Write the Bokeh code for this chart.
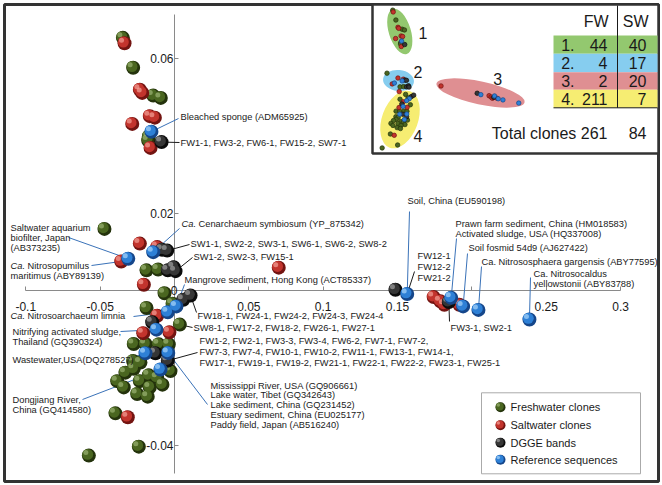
from bokeh.plotting import figure
from bokeh.models import Range1d, LinearAxis, FixedTicker
from bokeh.core.properties import value
from bokeh.embed import file_html
from bokeh.resources import INLINE

# ---------------- DATA (PCA coordinates) ----------------
fw_x = [-0.0347, -0.0278, -0.0143, -0.0092, -0.0173, -0.0177, -0.0471, -0.0188, -0.0110,
        -0.0067, -0.0013, -0.0188, 0.0036, -0.0274, -0.0195, -0.0106, -0.0038, -0.0278,
        -0.0229, -0.0274, -0.0330, -0.0027, -0.0173, -0.0116, -0.0385, -0.0233, -0.0081,
        -0.0341, -0.0166, -0.0251, -0.0180, -0.0397, -0.0240, -0.0576]
fw_y = [0.0652, 0.0575, 0.0503, 0.0497, 0.0397, 0.0387, 0.0159, 0.0052, 0.0054,
        -0.0007, -0.0034, -0.0045, -0.0088, -0.0138, -0.0138, -0.0139, -0.0139, -0.0182,
        -0.0186, -0.0202, -0.0212, -0.0208, -0.0219, -0.0225, -0.0234, -0.0234, -0.0243,
        -0.0250, -0.0250, -0.0267, -0.0274, -0.0317, -0.0403, -0.0426]

sw_x = [-0.0336, -0.0233, -0.0217, -0.0166, -0.0132, -0.0284, -0.0161, -0.0233, -0.0116,
        -0.0358, -0.0206, 0.0701, -0.0116, -0.0210, -0.0034, -0.0314, 0.1743, 0.1788,
        0.1815, 0.1916]
sw_y = [0.0638, 0.0518, 0.0510, 0.0450, 0.0446, 0.0430, 0.0368, 0.0121, 0.0112,
        0.0075, 0.0015, 0.0059, -0.0065, -0.0110, -0.0108, -0.0327, -0.0017, -0.0028,
        -0.0037, -0.0037]

dgge_x = [-0.0087, -0.0083, -0.0049, -0.0045, -0.0005, 0.0007, 0.0059, 0.0108, -0.0150,
          -0.0128, -0.0045, 0.1486, 0.1845]
dgge_y = [0.0383, 0.0105, 0.0103, 0.0052, 0.0060, 0.0050, -0.0024, -0.0013, -0.0082,
          -0.0162, -0.0181, 0.0002, -0.0030]

ref_x = [-0.0155, -0.0143, -0.0311, 0.0013, -0.0045, -0.0121, -0.0195, -0.0042, -0.0094,
         0.1565, 0.1861, 0.1941, 0.2044, 0.2387]
ref_y = [0.0410, 0.0099, 0.0082, -0.0041, -0.0056, -0.0101, -0.0162, -0.0161, -0.0204,
         -0.0009, -0.0019, -0.0041, -0.0050, -0.0075]

series_names = ["Freshwater clones", "Saltwater clones", "DGGE bands", "Reference sequences"]

x_ticks = [-0.1, -0.05, 0.0, 0.05, 0.1, 0.15, 0.2, 0.25, 0.3]
x_tick_labels = ["-0.1", "-0.05", "", "0.05", "0.1", "0.15", "", "0.25", "0.3"]
y_ticks = [0.06, 0.02, 0.0, -0.04]
y_tick_labels = ["0.06", "0.02", "", "-0.04"]
origin_label = "0"

group_ids = ["1.", "2.", "3.", "4."]
group_fw = [44, 4, 2, 211]
group_sw = [40, 17, 20, 7]
group_marks = ["1", "2", "3", "4"]

label_texts = [
    ["Bleached sponge (ADM65925)"],
    ["FW1-1, FW3-2, FW6-1, FW15-2, SW7-1"],
    ["Ca. Cenarchaeum symbiosum (YP_875342)"],
    ["SW1-1, SW2-2, SW3-1, SW6-1, SW6-2, SW8-2"],
    ["SW1-2, SW2-3, FW15-1"],
    ["Mangrove sediment, Hong Kong (ACT85337)"],
    ["Saltwater aquarium", "biofilter, Japan", "(AB373235)"],
    ["Ca. Nitrosopumilus", "maritimus (ABY89139)"],
    ["Ca. Nitrosoarchaeum limnia"],
    ["Nitrifying activated sludge,", "Thailand (GQ390324)"],
    ["Wastewater,USA(DQ278527)"],
    ["Dongjiang River,", "China (GQ414580)"],
    ["FW18-1, FW24-1, FW24-2, FW24-3, FW24-4"],
    ["SW8-1, FW17-2, FW18-2, FW26-1, FW27-1"],
    ["FW1-2, FW2-1, FW3-3, FW3-4, FW6-2, FW7-1, FW7-2,",
     "FW7-3, FW7-4, FW10-1, FW10-2, FW11-1, FW13-1, FW14-1,",
     "FW17-1, FW19-1, FW19-2, FW21-1, FW22-1, FW22-2, FW23-1, FW25-1"],
    ["Mississippi River, USA (GQ906661)", "Lake water, Tibet (GQ342643)",
     "Lake sediment, China (GQ231452)", "Estuary sediment, China (EU025177)",
     "Paddy field, Japan (AB516240)"],
    ["Soil, China (EU590198)"],
    ["FW12-1", "FW12-2", "FW21-2"],
    ["Prawn farm sediment, China (HM018583)", "Activated sludge, USA (HQ337008)"],
    ["Soil fosmid 54d9 (AJ627422)"],
    ["Ca. Nitrososphaera gargensis (ABY77595)"],
    ["Ca. Nitrosocaldus", "yellowstonii (ABY83788)"],
    ["FW3-1, SW2-1"],
]
# which point each label refers to: (series, index)
label_targets = [("ref", 0), ("dgge", 0), ("ref", 1), ("dgge", 2), ("dgge", 5), ("ref", 3),
                 ("ref", 2), ("sw", 9), ("ref", 4), ("ref", 5), ("ref", 6), ("ref", 8),
                 ("dgge", 7), ("fw", 12), ("dgge", 10), ("ref", 7), ("ref", 9), ("ref", 9),
                 ("ref", 10), ("ref", 11), ("ref", 12), ("ref", 13), ("dgge", 12)]

# ---------------- LAYOUT / STYLE ----------------
W, H = 662, 485
X0, X1 = -174 / 1487, (W - 174) / 1487
Y0, Y1 = (290 - H) / 3875, 290 / 3875
FONT = "Liberation Sans"
LBL_SIZE = 9.3

series = {"fw": (fw_x, fw_y), "sw": (sw_x, sw_y), "dgge": (dgge_x, dgge_y), "ref": (ref_x, ref_y)}
order = ["fw", "sw", "dgge", "ref"]
colors = {  # rim, body, highlight
    "fw": ("#24330c", "#4a6620", "#9bb473"),
    "sw": ("#731411", "#c2342d", "#f4a197"),
    "dgge": ("#0c0c0c", "#363636", "#a0a0a0"),
    "ref": ("#15468a", "#2e80d6", "#aad6fb"),
}
lead_col = {"b": "#3a72b8", "k": "#1a1a1a"}

# label layout in page pixels: text x, first line y, line step, leader end x/y, colour, italic "Ca."
label_layout = [
    (180, 116, 10, 178, 118, "b", False),
    (180, 142, 10, 179, 142, "k", False),
    (181, 223, 10, 179, 228, "b", True),
    (190, 243, 10, 189, 244, "k", False),
    (193, 256, 10, 192, 257, "k", False),
    (184, 279, 10, 184, 284, "b", False),
    (10, 227, 10, 68, 237, "b", False),
    (10, 265, 10, 91, 265, "b", True),
    (10, 315, 10, 133, 316, "b", True),
    (12, 331, 10, 120, 331, "b", False),
    (12, 359, 10, 128, 358, "b", False),
    (12, 399, 10.7, 82, 399, "b", False),
    (197, 315, 10, 196, 312, "k", False),
    (193, 327, 10, 192, 327, "k", False),
    (199, 340, 11.4, 197, 352, "k", False),
    (210, 385, 9.8, 207, 404, "b", False),
    (407, 200, 10, 409, 211, "b", False),
    (417, 255, 11.2, 414, 271, "k", False),
    (455, 223, 10, 456, 238, "b", False),
    (468, 247, 10, 467, 253, "b", False),
    (481, 261, 10, 481, 266, "b", False),
    (533, 273, 10.5, 530, 277, "b", False),
    (450, 327, 10, 449, 321, "k", False),
]


def page_x(x):
    return (x - X0) / (X1 - X0) * W


def page_y(y):
    return (Y1 - y) / (Y1 - Y0) * H


p = figure(width=W, height=H, x_range=Range1d(X0, X1), y_range=Range1d(Y0, Y1),
           x_axis_type=None, y_axis_type=None, toolbar_location=None,
           output_backend="svg", min_border=0, outline_line_color=None)

dx1, dx2 = 1.2 / 1487, 3.0 / 1487
dy1, dy2 = 1.2 / 3875, 3.0 / 3875
p.extra_x_ranges = {
    "px": Range1d(0, W),
    "s1x": Range1d(X0 + dx1, X1 + dx1),
    "s2x": Range1d(X0 + dx2, X1 + dx2),
    "ix": Range1d(-408.2 / 461, (W - 408.2) / 461),
}
p.extra_y_ranges = {
    "py": Range1d(H, 0),
    "s1y": Range1d(Y0 - dy1, Y1 - dy1),
    "s2y": Range1d(Y0 - dy2, Y1 - dy2),
    "iy": Range1d((93 - H) / 1278, 93 / 1278),
}
PX = dict(x_range_name="px", y_range_name="py")

# outer frame
p.quad(left=[4], right=[658], top=[4], bottom=[481], fill_color=None,
       line_color="#333333", line_width=3, **PX)

# ---------------- axes crossing at the origin ----------------
xa = LinearAxis(fixed_location=0, ticker=FixedTicker(ticks=x_ticks),
                major_label_overrides={float(k): v for k, v in zip(x_ticks, x_tick_labels)},
                bounds=(x_ticks[0], x_ticks[-1]))
ya = LinearAxis(fixed_location=0, ticker=FixedTicker(ticks=y_ticks),
                major_label_overrides={float(k): v for k, v in zip(y_ticks, y_tick_labels)},
                bounds=(-0.0472, 0.0712))
for ax in (xa, ya):
    ax.axis_line_color = "#8a8a8a"
    ax.major_tick_line_color = "#8a8a8a"
    ax.major_tick_in = 4
    ax.major_tick_out = 0
    ax.minor_tick_line_color = None
    ax.major_label_text_font = FONT
    ax.major_label_text_font_size = "12px"
    ax.major_label_text_color = "#1a1a1a"
    ax.level = "underlay"
xa.major_label_standoff = 11
ya.major_label_standoff = 1
p.add_layout(xa, "below")
p.add_layout(ya, "left")

# ---------------- leader lines ----------------
lx0, ly0, lx1, ly1, lc = [], [], [], [], []
for (kind, idx), lay in zip(label_targets, label_layout):
    xs, ys = series[kind]
    lx0.append(page_x(xs[idx]))
    ly0.append(page_y(ys[idx]))
    lx1.append(lay[3])
    ly1.append(lay[4])
    lc.append(lead_col[lay[5]])
p.segment(x0=lx0, y0=ly0, x1=lx1, y1=ly1, line_color=lc, line_width=1, **PX)

# ---------------- shaded sphere points ----------------
for kind in order:
    xs, ys = series[kind]
    base, body, hi = colors[kind]
    p.scatter(xs, ys, size=14, fill_color=base, line_color=None)
    p.scatter(xs, ys, size=11, fill_color=body, line_color=None,
              x_range_name="s1x", y_range_name="s1y")
    p.scatter(xs, ys, size=5, fill_color=hi, fill_alpha=0.7, line_color=None,
              x_range_name="s2x", y_range_name="s2y")

# origin label drawn over the points
p.text(x=[0.0], y=[0.0], text=[origin_label], text_font=value(FONT), text_font_size="12px",
       text_color="#1a1a1a", text_align="center", text_baseline="middle", x_offset=-0.5)

# ---------------- labels ----------------
up_x, up_y, up_t, up_o = [], [], [], []
it_x, it_y, it_t = [], [], []
ca_w = LBL_SIZE * (0.722 + 0.556 + 0.278 + 0.278)
for lines, lay in zip(label_texts, label_layout):
    tx, ty, step, _, _, _, ital = lay
    for j, line in enumerate(lines):
        yy = ty + j * step
        if ital and j == 0 and line.startswith("Ca. "):
            it_x.append(tx); it_y.append(yy); it_t.append("Ca.")
            up_x.append(tx); up_y.append(yy); up_t.append(line[4:]); up_o.append(ca_w)
        else:
            up_x.append(tx); up_y.append(yy); up_t.append(line); up_o.append(0)
p.text(x=up_x, y=up_y, text=up_t, x_offset=up_o, text_font=value(FONT),
       text_font_size=f"{LBL_SIZE}px", text_color="#1a1a1a", text_baseline="middle",
       text_align="left", **PX)
p.text(x=it_x, y=it_y, text=it_t, text_font=value(FONT), text_font_style="italic",
       text_font_size=f"{LBL_SIZE}px", text_color="#1a1a1a", text_baseline="middle",
       text_align="left", **PX)

# ---------------- inset: overview with groups ----------------
p.quad(left=[372], right=[658], top=[4], bottom=[153], fill_color="white",
       line_color="#333333", line_width=2.5, **PX)
grp_cols = ["#93c86f", "#86cdef", "#df8f92", "#f6ed72"]
p.ellipse(x=[399.3, 398, 480, 399.5], y=[31, 80, 92.5, 119], width=[22, 31, 90, 36],
          height=[47, 21, 23, 60], angle=[0.3, -0.1, -0.21, -0.35],
          width_units="screen", height_units="screen",
          fill_color=grp_cols, line_color=None, **PX)
for kind in order:
    xs, ys = series[kind]
    base, body, hi = colors[kind]
    p.scatter(xs, ys, size=4.5, fill_color=body, line_color=base, line_width=0.7,
              x_range_name="ix", y_range_name="iy")
p.text(x=[418, 413, 492.7, 413], y=[32, 71, 78, 135], text=group_marks, text_font=value(FONT),
       text_font_size="16px", text_color="#1a1a1a", text_baseline="middle", **PX)

# table
row_top = [35, 53.3, 71.7, 89.3]
row_bot = [53.3, 71.7, 89.3, 107.3]
row_mid = [(a + b) / 2 for a, b in zip(row_top, row_bot)]
p.quad(left=553, right=657, top=row_top, bottom=row_bot, fill_color=grp_cols,
       line_color=None, **PX)
p.segment(x0=[617, 553], y0=[5, 107.3], x1=[617, 657], y1=[107.3, 107.3],
          line_color="#1a1a1a", line_width=1, **PX)
tkw = dict(text_font=value(FONT), text_font_size="16px", text_color="#1a1a1a",
           text_baseline="middle", text_align="right", **PX)
p.text(x=[608, 648], y=[20.7, 20.7], text=["FW", "SW"], **tkw)
p.text(x=[574] * 4, y=row_mid, text=group_ids, **tkw)
p.text(x=[607] * 4, y=row_mid, text=[str(v) for v in group_fw], **tkw)
p.text(x=[646] * 4, y=row_mid, text=[str(v) for v in group_sw], **tkw)
p.text(x=[607, 646], y=[132.7, 132.7],
       text=[f"Total clones {sum(group_fw)}", str(sum(group_sw))], **tkw)

# ---------------- legend ----------------
p.quad(left=[481], right=[640], top=[392.3], bottom=[473.3], fill_color="white",
       line_color="#aaaaaa", line_width=1, **PX)
leg_y = [406.7, 424.7, 442.3, 459.3]
for kind, yy in zip(order, leg_y):
    base, body, hi = colors[kind]
    p.scatter([500], [yy], size=10, fill_color=base, line_color=None, **PX)
    p.scatter([499.2], [yy - 0.8], size=8, fill_color=body, line_color=None, **PX)
    p.scatter([497.8], [yy - 2.2], size=3.5, fill_color=hi, fill_alpha=0.7, line_color=None, **PX)
p.text(x=[510] * 4, y=leg_y, text=series_names, text_font=value(FONT), text_font_size="11px",
       text_color="#1a1a1a", text_baseline="middle", **PX)

open("out.html", "w").write(file_html(p, INLINE))
